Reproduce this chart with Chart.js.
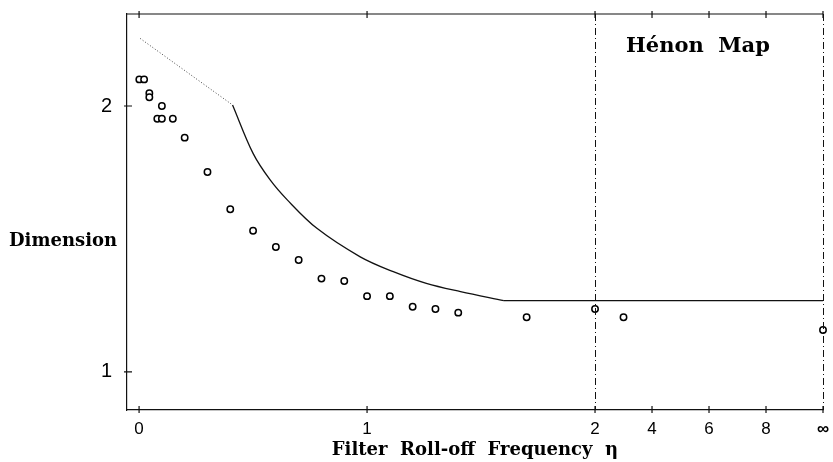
<!DOCTYPE html>
<html>
<head>
<meta charset="utf-8">
<script src="https://cdn.jsdelivr.net/npm/chart.js@4/dist/chart.umd.min.js"></script>
<style>
  body { margin: 0; background: #fff; }
  #wrap { width: 833px; height: 462px; }
</style>
</head>
<body>
<div id="wrap"><canvas id="henon" width="833" height="462"></canvas></div>
<script>
// measured points (circles): eta, dimension
const ptEta = [0.001, 0.022, 0.045, 0.045, 0.08, 0.1, 0.1, 0.148, 0.2, 0.3, 0.4, 0.5, 0.6, 0.7, 0.8, 0.9, 1.0, 1.1, 1.2, 1.3, 1.4, 1.7, 2, 3, Infinity];
const ptDim = [2.10, 2.10, 2.048, 2.033, 1.952, 2.0, 1.952, 1.952, 1.881, 1.752, 1.612, 1.531, 1.47, 1.421, 1.351, 1.342, 1.285, 1.285, 1.245, 1.237, 1.223, 1.206, 1.237, 1.206, 1.158];

// upper bound: dotted part, solid curve, then flat
const dotEta = [0.005, 0.41];
const dotDim = [2.254, 2.004];
const bndEta = [0.41, 0.5, 0.575, 0.65, 0.78, 0.97, 1.115, 1.26, 1.41, 1.6];
const bndDim = [2.004, 1.822, 1.722, 1.647, 1.54, 1.433, 1.377, 1.333, 1.302, 1.268];
const flatEta = [1.6, Infinity];
const flatDim = [1.268, 1.268];

const xTickEta = [0, 1, 2, 4, 6, 8, Infinity];
const xTickLabels = ["0", "1", "2", "4", "6", "8", "∞"];
const yTicks = [1, 2];

// broken axis: linear up to 2, then 2..10 squeezed into one unit, infinity at the end
function pos(eta) {
  if (eta === Infinity) return 3;
  return eta <= 2 ? eta : 2 + (eta - 2) / 8;
}
const toXY = (xs, ys) => xs.map((e, i) => ({ x: pos(e), y: ys[i] }));
const xTickPos = xTickEta.map(pos);

const frame = {
  id: "frame",
  afterDatasetsDraw(chart) {
    const { ctx, chartArea: a, scales: { x, y } } = chart;
    ctx.save();
    ctx.strokeStyle = "#111";
    ctx.lineWidth = 1.2;
    // top border
    ctx.beginPath();
    ctx.moveTo(a.left, a.top);
    ctx.lineTo(a.right, a.top);
    ctx.stroke();
    // tick crosses
    ctx.beginPath();
    xTickPos.forEach(v => {
      const px = x.getPixelForValue(v);
      ctx.moveTo(px, a.bottom - 4); ctx.lineTo(px, a.bottom + 3);
      ctx.moveTo(px, a.top - 3); ctx.lineTo(px, a.top + 4);
    });
    yTicks.forEach(v => {
      const py = y.getPixelForValue(v);
      ctx.moveTo(a.left - 3, py); ctx.lineTo(a.left + 5, py);
    });
    ctx.stroke();
    // dash-dot verticals at 2 and infinity
    ctx.lineWidth = 1;
    ctx.setLineDash([7, 3, 1, 3]);
    [2, 3].forEach(v => {
      const px = Math.round(x.getPixelForValue(v)) + 0.5;
      ctx.beginPath();
      ctx.moveTo(px, a.top);
      ctx.lineTo(px, a.bottom);
      ctx.stroke();
    });
    ctx.setLineDash([]);
    // texts
    ctx.fillStyle = "#000";
    ctx.textBaseline = "middle";
    ctx.textAlign = "left";
    ctx.font = "bold 21px 'DejaVu Serif'";
    ctx.fillText("Hénon  Map", 626, 47);
    ctx.font = "bold 18px 'DejaVu Serif'";
    ctx.fillText("Dimension", 9, 241);
    ctx.restore();
  }
};

new Chart(document.getElementById("henon").getContext("2d"), {
  type: "scatter",
  data: {
    datasets: [
      {
        label: "bound (dotted)",
        data: toXY(dotEta, dotDim),
        showLine: true,
        borderColor: "#444",
        borderWidth: 1,
        borderDash: [1, 2],
        pointRadius: 0,
        clip: false,
      },
      {
        label: "bound",
        data: toXY(bndEta, bndDim),
        showLine: true,
        borderColor: "#111",
        borderWidth: 1.3,
        tension: 0.35,
        pointRadius: 0,
        clip: false,
      },
      {
        label: "bound (flat)",
        data: toXY(flatEta, flatDim),
        showLine: true,
        borderColor: "#111",
        borderWidth: 1.3,
        pointRadius: 0,
        clip: false,
      },
      {
        label: "measured",
        data: toXY(ptEta, ptDim),
        pointRadius: 3.2,
        pointBorderWidth: 1.5,
        borderColor: "#000",
        backgroundColor: "#fff",
        clip: false,
      },
    ],
  },
  options: {
    responsive: false,
    animation: false,
    layout: { padding: { top: 14, right: 10, left: 0, bottom: 0 } },
    plugins: { legend: { display: false }, tooltip: { enabled: false } },
    scales: {
      x: {
        type: "linear",
        min: -0.053,
        max: 3,
        afterBuildTicks: s => { s.ticks = xTickPos.map(v => ({ value: v })); },
        afterFit: s => { s.height = 52; s.paddingLeft = 0; s.paddingRight = 0; },
        ticks: {
          autoSkip: false,
          maxRotation: 0,
          padding: 9,
          color: "#000",
          font: c => ({ family: "'Liberation Sans'", size: 17, weight: c.index === 6 ? "bold" : "normal" }),
          callback: (v, i) => xTickLabels[i],
        },
        grid: { display: false, drawTicks: false },
        border: { display: true, color: "#111", width: 1.2 },
        title: {
          display: true,
          text: "Filter  Roll-off  Frequency  η",
          color: "#000",
          font: { family: "'DejaVu Serif'", size: 18, weight: "bold" },
          padding: { top: 0, bottom: 1 },
        },
      },
      y: {
        min: 0.857,
        max: 2.346,
        afterBuildTicks: s => { s.ticks = yTicks.map(v => ({ value: v })); },
        afterFit: s => { s.width = 127; s.paddingTop = 0; s.paddingBottom = 0; },
        ticks: {
          padding: 15,
          color: "#000",
          font: { family: "'Liberation Sans'", size: 20 },
          callback: v => String(v),
        },
        grid: { display: false, drawTicks: false },
        border: { display: true, color: "#111", width: 1.2 },
      },
    },
  },
  plugins: [frame],
});
</script>
</body>
</html>
